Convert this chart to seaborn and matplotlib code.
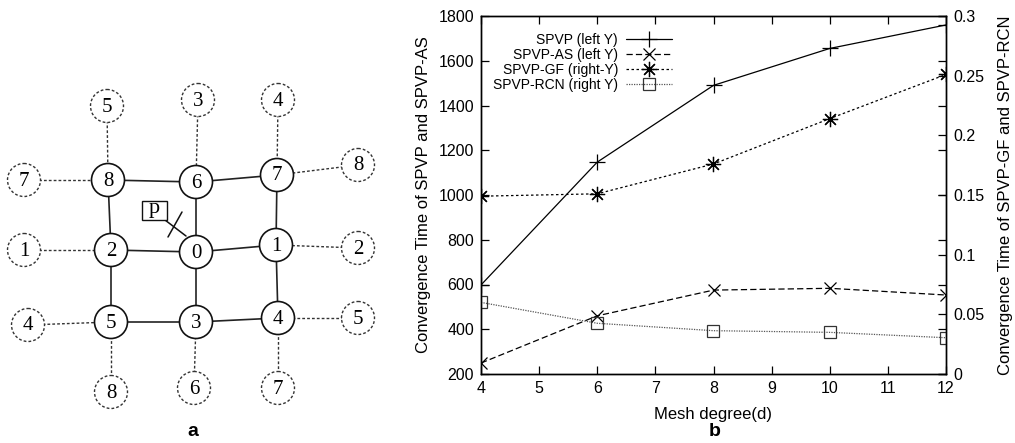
import matplotlib
matplotlib.use("Agg")
import matplotlib.pyplot as plt
import seaborn as sns
from matplotlib.patches import Circle, Rectangle

# ---------------- data: panel b ----------------
mesh_degree = [4, 6, 8, 10, 12]
spvp = [598, 1147, 1490, 1655, 1760]
spvp_as = [249, 460, 575, 583, 553]
spvp_gf = [0.149, 0.151, 0.176, 0.214, 0.251]
spvp_rcn = [0.060, 0.0425, 0.0363, 0.0349, 0.0304]
series_labels = ["SPVP (left Y)", "SPVP-AS (left Y)", "SPVP-GF (right-Y)", "SPVP-RCN (right Y)"]
x_ticks = [4, 5, 6, 7, 8, 9, 10, 11, 12]
left_ticks = [200, 400, 600, 800, 1000, 1200, 1400, 1600, 1800]
right_ticks = [0, 0.05, 0.1, 0.15, 0.2, 0.25, 0.3]
right_tick_labels = ["0", "0.05", "0.1", "0.15", "0.2", "0.25", "0.3"]

# ---------------- data: panel a (mesh diagram) ----------------
inner_label = ["8", "6", "7", "2", "0", "1", "5", "3", "4"]
inner_x = [108, 196, 277, 111, 196, 276, 111, 196, 278]
inner_y = [180, 182, 175, 250, 252, 245, 322, 322, 318]
inner_edges = [(0, 1), (1, 2), (3, 4), (4, 5), (6, 7), (7, 8),
               (0, 3), (3, 6), (1, 4), (4, 7), (2, 5), (5, 8)]
outer_label = ["5", "3", "4", "7", "8", "1", "2", "4", "5", "8", "6", "7"]
outer_x = [107, 198, 278, 24, 358, 24, 358, 28, 358, 111, 194, 278]
outer_y = [106, 100, 100, 180, 165, 250, 248, 325, 318, 392, 388, 388]
outer_attach = [0, 1, 2, 0, 2, 3, 5, 6, 8, 6, 7, 8]

sns.set_style("ticks")
plt.rcParams["font.family"] = ["Liberation Sans", "DejaVu Sans"]
plt.rcParams["text.color"] = "black"
plt.rcParams["axes.labelcolor"] = "black"

fig = plt.figure(figsize=(10.15, 4.43), dpi=100)

# ---------------- panel a ----------------
axa = fig.add_axes([0, 0, 396 / 1015, 1])
axa.set_xlim(0, 396)
axa.set_ylim(443, 0)
axa.axis("off")
R = 16.5
for i, j in inner_edges:
    axa.plot([inner_x[i], inner_x[j]], [inner_y[i], inner_y[j]], color="#222222", lw=1.2, zorder=1)
for k in range(len(outer_label)):
    j = outer_attach[k]
    axa.plot([outer_x[k], inner_x[j]], [outer_y[k], inner_y[j]], color="#333333", lw=1.0,
             dashes=(2, 1.5), zorder=1)
for k in range(len(outer_label)):
    axa.add_patch(Circle((outer_x[k], outer_y[k]), R, facecolor="white", edgecolor="#333333",
                         lw=1.0, linestyle=(0, (2, 1.5)), zorder=2))
    axa.text(outer_x[k], outer_y[k] + 1, outer_label[k], ha="center", va="center",
             fontsize=15, family="Liberation Serif", zorder=3)
for k in range(len(inner_label)):
    axa.add_patch(Circle((inner_x[k], inner_y[k]), R, facecolor="white", edgecolor="#111111",
                         lw=1.2, zorder=2))
    axa.text(inner_x[k], inner_y[k] + 1, inner_label[k], ha="center", va="center",
             fontsize=15, family="Liberation Serif", zorder=3)
# packet p
axa.add_patch(Rectangle((142, 201), 25, 19, facecolor="white", edgecolor="#111111", lw=1.0, zorder=2))
axa.text(154.5, 208, "p", ha="center", va="center", fontsize=16, family="Liberation Serif", zorder=3)
axa.plot([165, 186], [220, 236], color="#111111", lw=1.1, zorder=1)
axa.plot([168, 182], [237, 212], color="#111111", lw=1.1, zorder=1)
axa.text(193, 432, "a", ha="center", va="center", fontsize=14, fontweight="bold")

# ---------------- panel b ----------------
ax = fig.add_axes([481 / 1015, (443 - 374) / 443, 465 / 1015, 358 / 443])
ax2 = ax.twinx()

common = dict(color="black", markeredgecolor="black", markerfacecolor="none", lw=0.9, markeredgewidth=0.9)
sns.lineplot(x=mesh_degree, y=spvp, ax=ax, marker="+", markersize=11, linestyle="-",
             label=series_labels[0], legend=False, **common)
sns.lineplot(x=mesh_degree, y=spvp_as, ax=ax, marker="x", markersize=9, dashes=(5, 2.5),
             label=series_labels[1], legend=False, **common)
sns.lineplot(x=mesh_degree, y=spvp_gf, ax=ax2, marker=(8, 2, 0), markersize=11, dashes=(2, 2),
             label=series_labels[2], legend=False, **common)
sns.lineplot(x=mesh_degree, y=spvp_rcn, ax=ax2, marker="s", markersize=9, dashes=(1, 1),
             label=series_labels[3], legend=False, color="#555555", markeredgecolor="#333333",
             markerfacecolor="none", lw=0.9, markeredgewidth=0.9)

ax.set_xlim(4, 12)
ax.set_ylim(200, 1800)
ax2.set_ylim(0, 0.3)
ax.set_xticks(x_ticks)
ax.set_xticklabels([str(t) for t in x_ticks])
ax.set_yticks(left_ticks)
ax.set_yticklabels([str(t) for t in left_ticks])
ax2.set_yticks(right_ticks)
ax2.set_yticklabels(right_tick_labels)

for a in (ax, ax2):
    for s in a.spines.values():
        s.set_visible(True)
        s.set_linewidth(1.0)
        s.set_color("black")
ax.tick_params(direction="in", top=True, right=True, length=6, width=0.9, labelsize=11.5, pad=5,
               colors="black")
ax2.tick_params(direction="in", length=6, width=0.9, labelsize=11.5, pad=5, colors="black")

ax.set_xlabel("Mesh degree(d)", fontsize=12, labelpad=8)
ax.set_ylabel("Convergence Time of SPVP and SPVP-AS", fontsize=12, labelpad=5)
ax2.set_ylabel("Convergence Time of SPVP-GF and SPVP-RCN", fontsize=12, labelpad=10)

h1, l1 = ax.get_legend_handles_labels()
h2, l2 = ax2.get_legend_handles_labels()
leg = ax2.legend(h1 + h2, l1 + l2, loc="upper right", bbox_to_anchor=(0.411, 0.953),
                 frameon=False, markerfirst=False, fontsize=10, handlelength=3.3,
                 labelspacing=0.08, borderpad=0, borderaxespad=0, handletextpad=0.6)

fig.text(715 / 1015, 1 - 432 / 443, "b", ha="center", va="center", fontsize=14, fontweight="bold")

fig.savefig("out.png", dpi=100)
